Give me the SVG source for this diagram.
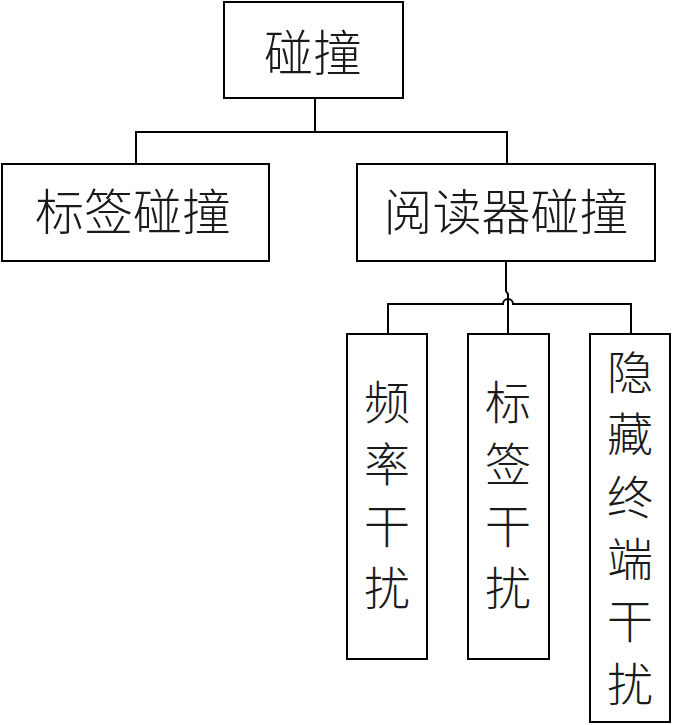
<svg xmlns="http://www.w3.org/2000/svg" width="673" height="725" viewBox="0 0 673 725">
<style>
.box{fill:#fff;stroke:#000;stroke-width:2}
.con{fill:none;stroke:#000;stroke-width:2}
text{font-family:"Noto Sans CJK SC","Noto Sans CJK TC",sans-serif;font-size:46px;font-weight:300;fill:#1a1a1a;text-anchor:middle;dominant-baseline:central}
text.h{font-size:49px}
</style>
<rect width="673" height="725" fill="#fff"/>
<g id="connectors">
<path class="con" d="M315,98 V132 M136,164 V132 H507 V164"/>
<path class="con" d="M506,261 V291 L508,294 V333"/>
<path class="con" d="M388,333 V304 H503 A5,5 0 0 1 513,304 H631 V333"/>
</g>
<g id="n-root"><rect class="box" x="224" y="2" width="179" height="96"/><text class="h" x="313" y="49">碰撞</text></g>
<g id="n-tag"><rect class="box" x="2" y="164" width="267" height="97"/><text class="h" x="133" y="208">标签碰撞</text></g>
<g id="n-reader"><rect class="box" x="357" y="164" width="298" height="97"/><text class="h" x="506" y="208">阅读器碰撞</text></g>
<g id="n-freq"><rect class="box" x="347" y="334" width="80" height="325"/>
<text x="387" y="399">频</text><text x="387" y="461">率</text><text x="387" y="523">干</text><text x="387" y="585">扰</text></g>
<g id="n-taginterf"><rect class="box" x="468" y="334" width="81" height="325"/>
<text x="508" y="399">标</text><text x="508" y="461">签</text><text x="508" y="523">干</text><text x="508" y="585">扰</text></g>
<g id="n-hidden"><rect class="box" x="590" y="334" width="80" height="388"/>
<text x="630" y="369">隐</text><text x="630" y="431">藏</text><text x="630" y="494">终</text><text x="630" y="556">端</text><text x="630" y="618">干</text><text x="630" y="681">扰</text></g>
</svg>
